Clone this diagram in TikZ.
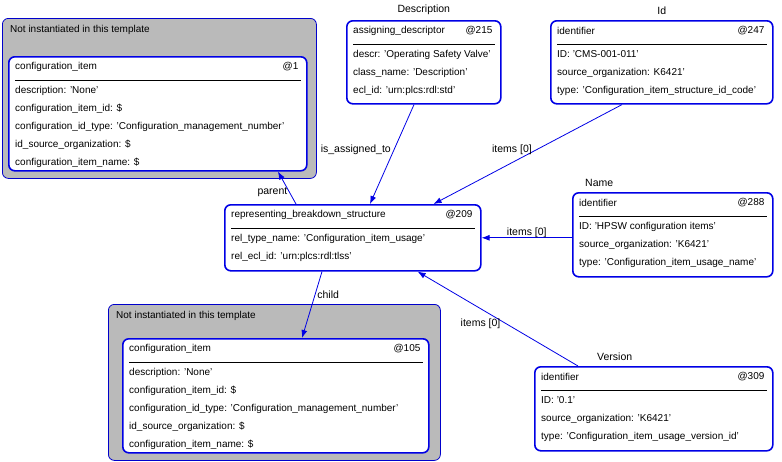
\documentclass[tikz,border=0pt]{standalone}
\usepackage{fontspec}
\setmainfont{Liberation Sans}
\usetikzlibrary{arrows.meta,calc,positioning}

\tikzset{
  ent/.style={draw=blue!90!black,line width=1.6pt,rounded corners=6pt,fill=white,anchor=north west},
  grp/.style={draw=blue!80!black,line width=0.8pt,rounded corners=6pt,fill=black!27,anchor=north west},
  txt/.style={inner sep=0pt,font=\fontsize{10}{18}\selectfont,align=left},
  con/.style={draw=blue!90!black,line width=0.8pt,-{Latex[length=8pt,width=6pt]}},
  lab/.style={inner sep=1pt,font=\fontsize{10.5}{12}\selectfont}
}
% box with title line, separator and attribute lines
\newcommand{\entbox}[7]{%
  \node[ent,minimum width=#3,minimum height=#4] (#1) at (#2) {};
  \node[txt,anchor=west] at ($(#1.north west)+(7,11)$) {#5};
  \node[txt,anchor=east] at ($(#1.north east)+(-9,11)$) {#6};
  \draw[line width=0.6pt] ($(#1.north west)+(7,24)$) -- ($(#1.north east)+(-7,24)$);
  \node[txt,anchor=north west] at ($(#1.north west)+(7,30)$) {#7};
}

\begin{document}
\begin{tikzpicture}[x=1pt,y=-1pt]
\useasboundingbox (0,0) rectangle (782,461);

% not instantiated groups
\node[grp,minimum width=314,minimum height=160] (g1) at (2,18) {};
\node[txt,anchor=west] at ($(g1.north west)+(8,12)$) {Not instantiated in this template};
\node[grp,minimum width=332,minimum height=156] (g2) at (108,304) {};
\node[txt,anchor=west] at ($(g2.north west)+(8,12)$) {Not instantiated in this template};

\entbox{ci1}{8,56}{298}{114}{configuration\_item}{@1}{description: 'None'\\configuration\_item\_id: \$\\configuration\_id\_type: 'Configuration\_management\_number'\\id\_source\_organization: \$\\configuration\_item\_name: \$}
\entbox{ci105}{122,338}{306}{114}{configuration\_item}{@105}{description: 'None'\\configuration\_item\_id: \$\\configuration\_id\_type: 'Configuration\_management\_number'\\id\_source\_organization: \$\\configuration\_item\_name: \$}
\entbox{desc}{346,20}{154}{83}{assigning\_descriptor}{@215}{descr: 'Operating Safety Valve'\\class\_name: 'Description'\\ecl\_id: 'urn:plcs:rdl:std'}
\entbox{id}{550,20}{222}{83}{identifier}{@247}{ID: 'CMS-001-011'\\source\_organization: K6421'\\type: 'Configuration\_item\_structure\_id\_code'}
\entbox{rep}{224,204}{256}{66}{representing\_breakdown\_structure}{@209}{rel\_type\_name: 'Configuration\_item\_usage'\\rel\_ecl\_id: 'urn:plcs:rdl:tlss'}
\entbox{name}{572,192}{200}{84}{identifier}{@288}{ID: 'HPSW configuration items'\\source\_organization: 'K6421'\\type: 'Configuration\_item\_usage\_name'}
\entbox{ver}{534,366}{238}{84}{identifier}{@309}{ID: '0.1'\\source\_organization: 'K6421'\\type: 'Configuration\_item\_usage\_version\_id'}

% box titles
\node[lab,above=4pt of desc.north] {Description};
\node[lab,above=4pt of id.north] {Id};
\node[lab,anchor=south west] at ($(name.north west)+(12,-4)$) {Name};
\node[lab,anchor=south west] at ($(ver.north west)+(62,-4)$) {Version};

% connectors
\draw[con] ($(desc.south west)+(68,0)$) -- node[lab,pos=0.45,left=2pt] {is\_assigned\_to} ($(rep.north west)+(146,0)$);
\draw[con] ($(id.south west)+(72,0)$) -- node[lab,pos=0.45,left=4pt] {items [0]} ($(rep.north east)+(-48,0)$);
\draw[con] (name.west |- rep.east) -- node[lab,above=-1pt] {items [0]} (rep.east);
\draw[con] ($(ver.north west)+(44,0)$) -- node[lab,pos=0.45,left=4pt] {items [0]} ($(rep.south east)+(-64,0)$);
\draw[con] ($(rep.north west)+(72,0)$) -- node[lab,pos=0.35,left=1pt] {parent} ($(ci1.south west)+(270,0)$);
\draw[con] ($(rep.south west)+(98,0)$) -- node[lab,pos=0.35,right=1pt] {child} ($(ci105.north west)+(180,0)$);
\end{tikzpicture}
\end{document}
